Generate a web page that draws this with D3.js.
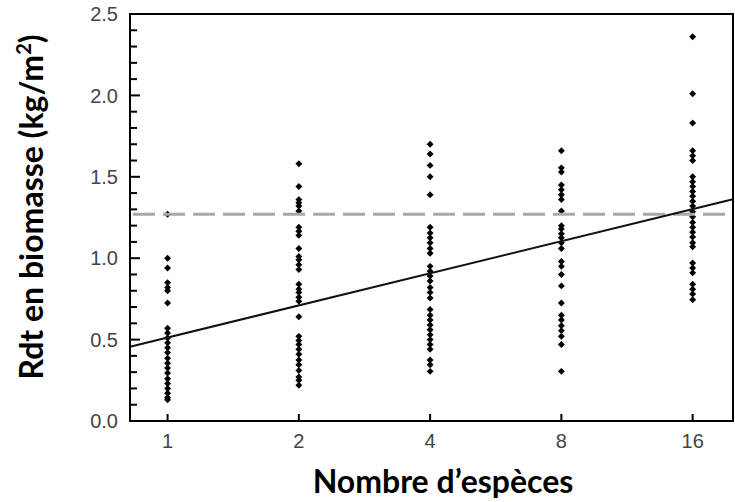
<!DOCTYPE html>
<html>
<head>
<meta charset="utf-8">
<script src="https://cdn.jsdelivr.net/npm/d3@7"></script>
<style>
  body { margin: 0; background: #fff; }
  svg { display: block; }
  .tick-label { font-family: "Liberation Sans", Arial, sans-serif; font-size: 20px; fill: #444; }
  .title { font-family: Lato, "Open Sans", sans-serif; font-weight: bold; font-size: 32px; fill: #000; }
</style>
</head>
<body>
<svg id="chart" width="735" height="502"></svg>
<script>
// species richness levels (x categories)
var species = [1, 2, 4, 8, 16];

// biomass yield (kg/m2)
var yield1 = [1.27, 1.00, 0.94, 0.85, 0.82, 0.80, 0.725, 0.57, 0.54, 0.51, 0.48, 0.45, 0.42,
  0.385, 0.355, 0.325, 0.295, 0.26, 0.23, 0.20, 0.17, 0.145, 0.13];
var yield2 = [1.58, 1.44, 1.36, 1.34, 1.32, 1.29, 1.19, 1.165, 1.14, 1.06, 1.01, 0.99, 0.96,
  0.93, 0.84, 0.81, 0.79, 0.76, 0.735, 0.64, 0.52, 0.495, 0.47, 0.44, 0.41, 0.375, 0.345,
  0.31, 0.27, 0.25, 0.22];
var yield4 = [1.70, 1.64, 1.57, 1.50, 1.39, 1.19, 1.155, 1.125, 1.095, 1.06, 1.03, 0.95, 0.92,
  0.89, 0.86, 0.82, 0.79, 0.755, 0.685, 0.65, 0.62, 0.59, 0.56, 0.53, 0.50, 0.47, 0.44,
  0.375, 0.345, 0.305];
var yield8 = [1.66, 1.555, 1.53, 1.45, 1.42, 1.39, 1.36, 1.29, 1.20, 1.18, 1.15, 1.125, 1.095,
  1.06, 0.98, 0.95, 0.90, 0.83, 0.725, 0.65, 0.62, 0.585, 0.555, 0.52, 0.47, 0.305];
var yield16 = [2.36, 2.01, 1.83, 1.66, 1.63, 1.60, 1.50, 1.47, 1.44, 1.41, 1.38, 1.35, 1.32,
  1.285, 1.255, 1.22, 1.19, 1.16, 1.13, 1.095, 1.07, 0.97, 0.94, 0.91, 0.84, 0.81, 0.78, 0.745];
var yields = [yield1, yield2, yield4, yield8, yield16];

// fitted line: y = intercept + slope * log2(species)
var fitIntercept = 0.513, fitSlope = 0.197;
// reference (dashed) level
var refLevel = 1.27;

var yTicks = [0.0, 0.5, 1.0, 1.5, 2.0, 2.5];

var svg = d3.select("#chart"),
    margin = {top: 14, right: 2, bottom: 81, left: 130},
    width = +svg.attr("width"),
    height = +svg.attr("height");

var x = d3.scaleLog().base(2)
    .domain([0.82, 19.8])
    .range([margin.left, width - margin.right]);

var y = d3.scaleLinear()
    .domain([0, 2.5])
    .range([height - margin.bottom, margin.top]);

// minor ticks every 0.1, longer every 0.5
svg.append("g")
  .selectAll("line")
  .data(d3.range(1, 25).map(function(i) { return i / 10; }))
  .enter().append("line")
    .attr("x1", margin.left)
    .attr("x2", function(d, i) { return margin.left + ((i + 1) % 5 === 0 ? 10 : 7); })
    .attr("y1", function(d) { return y(d); })
    .attr("y2", function(d) { return y(d); })
    .attr("stroke", "#000")
    .attr("stroke-width", 2);

svg.append("g")
  .selectAll("text")
  .data(yTicks)
  .enter().append("text")
    .attr("class", "tick-label")
    .attr("x", margin.left - 12)
    .attr("y", function(d) { return y(d); })
    .attr("dy", "0.36em")
    .attr("text-anchor", "end")
    .text(function(d) { return d.toFixed(1); });

// x ticks
svg.append("g")
  .selectAll("line")
  .data(species)
  .enter().append("line")
    .attr("x1", x).attr("x2", x)
    .attr("y1", y(0))
    .attr("y2", y(0) - 7)
    .attr("stroke", "#000")
    .attr("stroke-width", 2);

svg.append("g")
  .selectAll("text")
  .data(species)
  .enter().append("text")
    .attr("class", "tick-label")
    .attr("x", x)
    .attr("y", y(0) + 27)
    .attr("text-anchor", "middle")
    .text(function(d) { return d; });

// points
var pts = [];
species.forEach(function(s, i) {
  yields[i].forEach(function(v) { pts.push({s: s, v: v}); });
});

svg.append("g")
  .selectAll("path")
  .data(pts)
  .enter().append("path")
    .attr("d", d3.symbol().type(d3.symbolSquare).size(24))
    .attr("transform", function(d) { return "translate(" + x(d.s) + "," + y(d.v) + ") rotate(45)"; })
    .attr("fill", "#000");

// dashed reference line
svg.append("line")
    .attr("x1", x.range()[0]).attr("x2", x.range()[1])
    .attr("y1", y(refLevel)).attr("y2", y(refLevel))
    .attr("stroke", "#a8a8a8")
    .attr("stroke-width", 3)
    .attr("stroke-dasharray", "22,8")
    .attr("stroke-dashoffset", -3);

// regression line
var xd = x.domain();
svg.append("line")
    .attr("x1", x(xd[0])).attr("x2", x(xd[1]))
    .attr("y1", y(fitIntercept + fitSlope * Math.log2(xd[0])))
    .attr("y2", y(fitIntercept + fitSlope * Math.log2(xd[1])))
    .attr("stroke", "#111")
    .attr("stroke-width", 2);

// frame
svg.append("rect")
    .attr("x", margin.left)
    .attr("y", margin.top)
    .attr("width", width - margin.left - margin.right)
    .attr("height", height - margin.top - margin.bottom)
    .attr("fill", "none")
    .attr("stroke", "#000")
    .attr("stroke-width", 2);

// titles
svg.append("text")
    .attr("class", "title")
    .attr("x", 443)
    .attr("y", 493)
    .attr("text-anchor", "middle")
    .text("Nombre d\u2019esp\u00e8ces");

var yt = svg.append("text")
    .attr("class", "title")
    .attr("transform", "translate(43,207) rotate(-90)")
    .attr("text-anchor", "middle");
yt.append("tspan").text("Rdt en biomasse (kg/m");
yt.append("tspan").attr("baseline-shift", "super").attr("font-size", "20px").text("2");
yt.append("tspan").text(")");
</script>
</body>
</html>
